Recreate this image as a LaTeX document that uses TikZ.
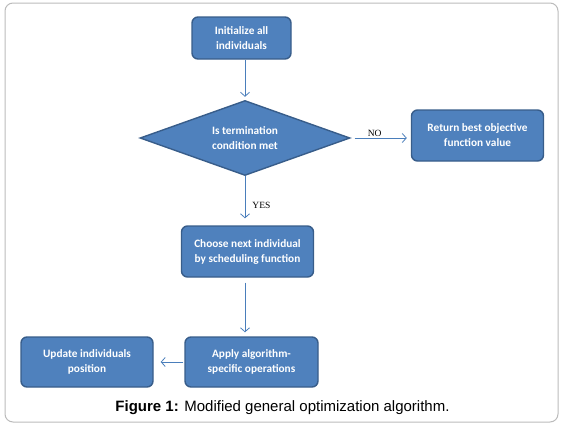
\documentclass[tikz,border=0pt]{standalone}
\usepackage{fontspec}
\setmainfont{Liberation Sans}
\newfontfamily\boxfont{Carlito}
\newfontfamily\tagfont{Liberation Serif}
\usetikzlibrary{shapes.geometric, arrows.meta, math}

\definecolor{boxfill}{HTML}{4F81BD}
\definecolor{boxline}{HTML}{385D8A}
\definecolor{linkline}{HTML}{4A7EBB}
\definecolor{frameline}{HTML}{BBBBBB}

\begin{document}
\begin{tikzpicture}[x=1pt, y=-1pt,
	stepbox/.style={draw=boxline, fill=boxfill, line width=1.4pt, rounded corners=6pt,
		align=center, text=white, inner sep=1pt,
		font=\boxfont\bfseries\fontsize{11.3}{15}\selectfont},
	testbox/.style={stepbox, diamond, rounded corners=0pt, aspect=2.8, inner sep=0pt},
	link/.style={draw=linkline, line width=0.8pt, -{Straight Barb[length=4pt, width=9pt]}},
	tag/.style={font=\tagfont\fontsize{9.5}{11}\selectfont, inner sep=1pt},
]
	% Constants
	\tikzmath{
		\boxw = 132; \boxh = 50; \midx = 245;
	}

	% Frame and page size
	\useasboundingbox (0, 0) rectangle (565, 426);
	\draw[frameline, line width=1pt, rounded corners=8pt] (5, 3) rectangle (558, 422);

	% Steps of the algorithm
	\node[stepbox, minimum width=99pt, minimum height=42pt] (init) at (241.5, 38) {Initialize all\\individuals};
	\node[testbox, minimum width=210pt, minimum height=75pt] (test) at (\midx, 138) {Is termination\\condition met};
	\node[stepbox, minimum width=\boxw, minimum height=\boxh+1] (stop) at (477.5, 135.5) {Return best objective\\function value};
	\node[stepbox, minimum width=\boxw, minimum height=\boxh+1] (choose) at (247.5, 251.5) {Choose next individual\\by scheduling function};
	\node[stepbox, minimum width=\boxw+1, minimum height=\boxh] (apply) at (251.5, 362) {Apply algorithm-\\specific operations};
	\node[stepbox, minimum width=\boxw, minimum height=\boxh] (update) at (87, 362) {Update individuals\\position};

	% Connectors
	\draw[link, shorten >=3pt] (init.south -| test.north) -- (test.north);
	\draw[link, shorten <=4pt, shorten >=4pt] (test.east) -- (test.east -| stop.west) node[tag, above, pos=0.4] (no) {NO};
	\draw[link, shorten >=7pt] (test.south) -- (test.south |- choose.north) node[tag, right, pos=0.6, xshift=6pt] (yes) {YES};
	\draw[link, shorten <=5pt, shorten >=4pt] (choose.south -| test.south) -- (test.south |- apply.north);
	\draw[link, shorten <=1pt, shorten >=7pt] (apply.west) -- (update.east);

	% Caption
	\node[font=\fontsize{15}{18}\selectfont] (caption) at (282.5, 408) {\textbf{Figure 1:} Modified general optimization algorithm.};
\end{tikzpicture}
\end{document}
